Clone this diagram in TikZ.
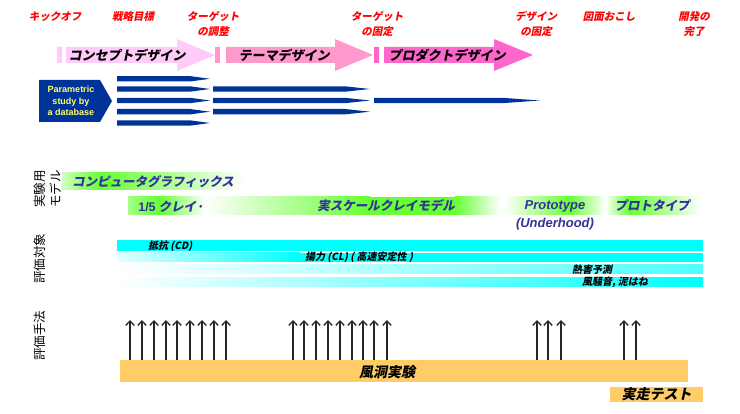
\documentclass[tikz,border=0pt]{standalone}
\usepackage{fontspec}
\setmainfont{Liberation Sans}
\newfontfamily\jp{Noto Sans CJK JP}
\newfontfamily\jpbi{Noto Sans CJK JP}[FakeSlant=0.2]
\usetikzlibrary{arrows.meta}
\definecolor{msred}{RGB}{255,0,0}
\definecolor{conpink}{RGB}{255,204,250}
\definecolor{thmpink}{RGB}{255,153,204}
\definecolor{prdpink}{RGB}{255,102,204}
\definecolor{psblue}{RGB}{0,51,153}
\definecolor{psyellow}{RGB}{255,255,102}
\definecolor{mdlgreen}{RGB}{102,255,51}
\definecolor{mdlblue}{RGB}{51,51,153}
\definecolor{evcyan}{RGB}{0,255,255}
\definecolor{wtorange}{RGB}{255,204,102}

\begin{document}
\begin{tikzpicture}[x=1pt,y=-1pt,
	milestone/.style={text=msred,font=\jpbi\bfseries\fontsize{10.5}{14.5}\selectfont,align=center},
	phase/.style={font=\jpbi\bfseries\fontsize{13}{15}\selectfont},
	sidelabel/.style={rotate=90,font=\jp\fontsize{12.5}{16}\selectfont,align=center},
	model/.style={text=mdlblue,font=\jpbi\bfseries\fontsize{12.5}{18}\selectfont,align=center},
	target/.style={font=\jpbi\bfseries\fontsize{10}{12}\selectfont,anchor=west,inner sep=0pt},
	method/.style={font=\jpbi\bfseries\fontsize{14}{16}\selectfont},
	uparrow/.style={-{Straight Barb[length=4.5pt,width=8.5pt]},line width=1.3pt,black!85}]
	\useasboundingbox (0,0) rectangle (740,414);

	\node[milestone] (kickoff) at (55,17) {キックオフ};
	\node[milestone] (goal) at (133,17) {戦略目標};
	\node[milestone] (tadjust) at (213,24) {ターゲット\\の調整};
	\node[milestone] (tfix) at (377,24) {ターゲット\\の固定};
	\node[milestone] (dfix) at (536,24) {デザイン\\の固定};
	\node[milestone] (drawing) at (609,17) {図面おこし};
	\node[milestone] (finish) at (694,24) {開発の\\完了};

	\fill[conpink] (57,47) rectangle (62,63) (66,47) rectangle (177,63);
	\fill[conpink] (177,39) -- (215,55) -- (177,71) -- cycle;
	\fill[thmpink] (215,47) rectangle (220,63) (226,47) rectangle (335,63);
	\fill[thmpink] (335,39) -- (373,55) -- (335,71) -- cycle;
	\fill[prdpink] (374,47) rectangle (379,63) (384,47) rectangle (494,63);
	\fill[prdpink] (494,39) -- (533,55) -- (494,71) -- cycle;
	\node[phase] (concept) at (127,55) {コンセプトデザイン};
	\node[phase] (theme) at (284,55) {テーマデザイン};
	\node[phase] (product) at (447,55) {プロダクトデザイン};

	\fill[psblue] (39,80) -- (100,80) -- (112,101) -- (100,122) -- (39,122) -- cycle;
	\node[text=psyellow,font=\bfseries\fontsize{9}{11.5}\selectfont,align=center] (pstudy) at (71,101) {Parametric\\study by\\a database};
	\foreach \y in {78.8,89,100.5,111.7,123}
		\fill[psblue] (117,{\y-2.7}) -- (190,{\y-2.7}) -- (210,\y) -- (190,{\y+2.7}) -- (117,{\y+2.7}) -- cycle;
	\foreach \y in {89,100.5,111.7}
		\fill[psblue] (213,{\y-2.7}) -- (345,{\y-2.7}) -- (370,\y) -- (345,{\y+2.7}) -- (213,{\y+2.7}) -- cycle;
	\fill[psblue] (374,97.8) -- (502,97.8) -- (540,100.5) -- (502,103.2) -- (374,103.2) -- cycle;

	\node[sidelabel] (modellabel) at (48,189) {実験用\\モデル};
	\shade[left color=mdlgreen!30,right color=mdlgreen] (62,173) rectangle (100,190);
	\shade[left color=mdlgreen,right color=white] (100,173) rectangle (245,190);
	\node[model] (cg) at (153,182) {コンピュータグラフィックス};
	\shade[left color=mdlgreen!60,right color=mdlgreen] (128,197) rectangle (160,215);
	\shade[left color=mdlgreen,right color=white] (160,197) rectangle (205,215);
	\node[model] (clay) at (171,207) {{\fontspec{Liberation Sans}1/5} クレイ·};
	\shade[left color=white,right color=mdlgreen] (205,197) rectangle (370,215);
	\fill[mdlgreen] (370,197) rectangle (455,215);
	\shade[left color=mdlgreen,right color=white] (455,197) rectangle (500,215);
	\node[model] (fullclay) at (386,206) {実スケールクレイモデル};
	\shade[left color=white,right color=mdlgreen] (503,197) rectangle (570,215);
	\shade[left color=mdlgreen,right color=white] (570,197) rectangle (605,215);
	\node[model,font=\bfseries\itshape\fontsize{13}{18}\selectfont] (underhood) at (555,215) {Prototype\\(Underhood)};
	\shade[left color=white,right color=mdlgreen] (605,197) rectangle (630,215);
	\shade[left color=mdlgreen,right color=white] (630,197) rectangle (700,215);
	\node[model] (proto) at (652,206) {プロトタイプ};

	\node[sidelabel] (targetlabel) at (40,259) {評価対象};
	\fill[evcyan] (117,240) rectangle (703,251);
	\shade[left color=evcyan!10,right color=evcyan] (117,253) rectangle (300,262);
	\fill[evcyan] (300,253) rectangle (703,262);
	\shade[left color=white,right color=evcyan!70] (117,265) rectangle (703,274);
	\shade[left color=white,right color=evcyan] (117,278) rectangle (703,287);
	\node[target] (drag) at (148,246) {抵抗 (CD)};
	\node[target] (lift) at (305,257) {揚力 (CL) ( 高速安定性 )};
	\node[target] (heat) at (572,270) {熱害予測};
	\node[target] (noise) at (582,282) {風騒音, 泥はね};

	\node[sidelabel] (methodlabel) at (40,336) {評価手法};
	\node[fill=wtorange,minimum width=568,minimum height=22,inner sep=0] (tunnel) at (404,371) {};
	\node[method] (tunneltext) at (387,372) {風洞実験};
	\node[method,fill=wtorange,minimum width=93,minimum height=15,inner sep=0] (road) at (656.5,394.5) {実走テスト};

	\foreach \x [count=\i] in {130,142,154,166,177,190,202,214,226,293,304,316,328,340,352,363,374,387,537,548,561,624,636}{
		\coordinate (tip\i) at (\x,320);
		\draw[uparrow] (tunnel.north -| tip\i) -- (tip\i);
	}
\end{tikzpicture}
\end{document}
